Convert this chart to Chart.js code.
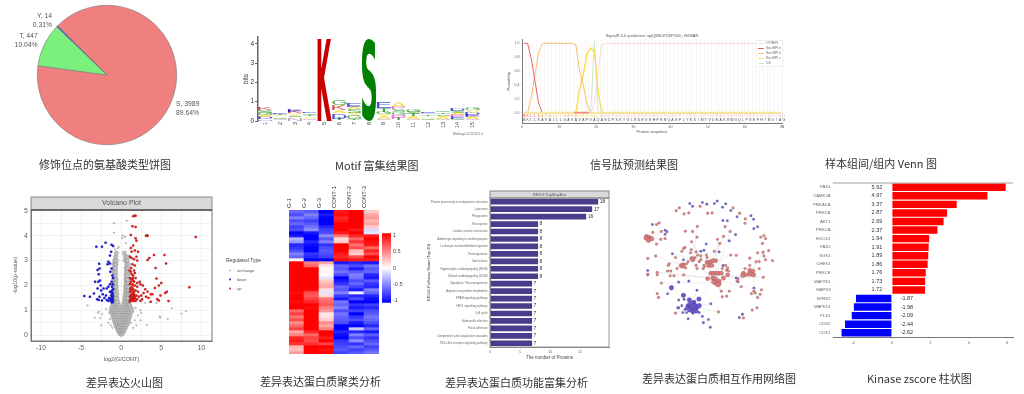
<!DOCTYPE html>
<html lang="zh">
<head>
<meta charset="UTF-8">
<title>Figure panels</title>
<script src="https://cdn.jsdelivr.net/npm/chart.js"></script>
<style>
    html, body { margin: 0; padding: 0; background: #fff; }
    body { width: 1024px; height: 394px; position: relative; overflow: hidden; }
    canvas { position: absolute; filter: blur(0.45px); }
    .cap { position: absolute; font: 11px "Noto Sans CJK SC", sans-serif; color: #333; white-space: nowrap; line-height: 14px; filter: blur(0.3px); }
</style>
</head>
<body>
<canvas id="pieChart" width="214" height="150" style="left:0;top:0"></canvas>
<canvas id="logoChart" width="250" height="120" style="left:240px;top:25px"></canvas>
<canvas id="signalChart" width="300" height="125" style="left:500px;top:25px"></canvas>
<canvas id="volcanoChart" width="285" height="182" style="left:0;top:190px"></canvas>
<canvas id="heatChart" width="100" height="175" style="left:285px;top:183px"></canvas>
<canvas id="scaleChart" width="35" height="80" style="left:380px;top:228px"></canvas>
<canvas id="keggChart" width="200" height="182" style="left:420px;top:185px"></canvas>
<canvas id="netChart" width="190" height="175" style="left:620px;top:185px"></canvas>
<canvas id="kinaseChart" width="224" height="180" style="left:800px;top:170px"></canvas>

<div class="cap" style="left:39px;top:157px">修饰位点的氨基酸类型饼图</div>
<div class="cap" style="left:335px;top:158px">Motif 富集结果图</div>
<div class="cap" style="left:590px;top:157px">信号肽预测结果图</div>
<div class="cap" style="left:825px;top:156px">样本组间/组内 Venn 图</div>
<div class="cap" style="left:86px;top:375px">差异表达火山图</div>
<div class="cap" style="left:260px;top:374px">差异表达蛋白质聚类分析</div>
<div class="cap" style="left:445px;top:375px">差异表达蛋白质功能富集分析</div>
<div class="cap" style="left:642px;top:371px">差异表达蛋白质相互作用网络图</div>
<div class="cap" style="left:867px;top:371px">Kinase zscore 柱状图</div>

<script>
// pie
const pieNames = ['S', 'T', 'Y'];
const pieCounts = [3989, 447, 14];
const piePercents = ['89.64%', '10.04%', '0.31%'];
const pieColors = ['#F08080', '#7CF07C', '#4169C8'];

// motif logo, bottom layer first, one letter string per position
const logoPositions = ['1', '2', '3', '4', '5', '6', '7', '8', '9', '10', '11', '12', '13', '14', '15'];
const logoLetters = ['NDAGSK', 'QGAVTE', 'NASVKE', 'QAVTGD', 'K', 'TDAKAG', 'TGVSAE', 'S', 'QAVGTE', 'TPGSPA', 'QAVTSG', 'GAVTQE', 'QAVSTG', 'GEPASD', 'QAEDVG'];
const logoLayer1 = [.1, .08, .12, .1, 4.3, .12, .1, 4.3, .12, .12, .1, .1, .1, .1, .1];
const logoLayer2 = [.12, .08, .08, .07, 0, .28, .2, 0, .12, .2, .1, .08, .1, .1, .1];
const logoLayer3 = [.1, .08, .07, .08, 0, .15, .1, 0, .1, .15, .08, .08, .08, .1, .12];
const logoLayer4 = [.1, .08, .12, .08, 0, .25, .2, 0, .12, .13, .1, .08, .08, .1, .12];
const logoLayer5 = [.13, .06, .1, .08, 0, .05, .1, 0, .2, .15, .1, .08, .08, .1, .12];
const logoLayer6 = [.15, .08, .14, .08, 0, .25, .2, 0, .3, .25, .1, .08, .08, .12, .14];

// signal peptide, one value per residue
const residues = 'MKLLSAVALLLGAVAVAPVAQAEDPSKTGLRDEVNHFERQAGPLYKSIMTVDEAKRWGQLPSEFHTNDIAG'.split('');
const sigN = [1, 1, .78, .45, .13, 0, 0, 0, 0, 0, 0, 0, 0, 0, 0, 0, 0, 0, 0, 0, 0, 0, 0, 0, 0, 0, 0, 0, 0, 0, 0, 0, 0, 0, 0, 0, 0, 0, 0, 0, 0, 0, 0, 0, 0, 0, 0, 0, 0, 0, 0, 0, 0, 0, 0, 0, 0, 0, 0, 0, 0, 0, 0, 0, 0, 0, 0, 0, 0, 0];
const sigH = [0, 0, .22, .55, .87, 1, 1, 1, 1, 1, 1, 1, 1, 1, .98, .6, .4, .12, 0, 0, 0, 0, 0, 0, 0, 0, 0, 0, 0, 0, 0, 0, 0, 0, 0, 0, 0, 0, 0, 0, 0, 0, 0, 0, 0, 0, 0, 0, 0, 0, 0, 0, 0, 0, 0, 0, 0, 0, 0, 0, 0, 0, 0, 0, 0, 0, 0, 0, 0, 0];
const sigC = [0, 0, 0, 0, 0, 0, 0, 0, 0, 0, 0, 0, 0, 0, 0, .33, .55, .85, .93, .88, .3, 0, 0, 0, 0, 0, 0, 0, 0, 0, 0, 0, 0, 0, 0, 0, 0, 0, 0, 0, 0, 0, 0, 0, 0, 0, 0, 0, 0, 0, 0, 0, 0, 0, 0, 0, 0, 0, 0, 0, 0, 0, 0, 0, 0, 0, 0, 0, 0, 0];
const sigOther = [0, 0, 0, 0, 0, 0, 0, 0, 0, 0, 0, 0, 0, 0, 0, 0, 0, 0, 0, .12, .6, .98, 1, 1, 1, 1, 1, 1, 1, 1, 1, 1, 1, 1, 1, 1, 1, 1, 1, 1, 1, 1, 1, 1, 1, 1, 1, 1, 1, 1, 1, 1, 1, 1, 1, 1, 1, 1, 1, 1, 1, 1, 1, 1, 1, 1, 1, 1, 1, 1];
const sigCs = [0, 0, 0, 0, 0, 0, 0, 0, 0, 0, 0, 0, 0, 0, 0, 0, 0, 0, 0, 1.03, 0, 0, 0, 0, 0, 0, 0, 0, 0, 0, 0, 0, 0, 0, 0, 0, 0, 0, 0, 0, 0, 0, 0, 0, 0, 0, 0, 0, 0, 0, 0, 0, 0, 0, 0, 0, 0, 0, 0, 0, 0, 0, 0, 0, 0, 0, 0, 0, 0, 0];
const sigNames = ['OTHER', 'Sec/SPI n', 'Sec/SPI h', 'Sec/SPI c', 'CS'];
const sigColors = ['#F9CFCF', '#E23B3B', '#F3B04A', '#F7DE4E', '#BFE8BF'];

// volcano [log2FC, -log10 p]
const volcCore = [[0, .05], [-.1, .05], [.1, .05], [-.3, .15], [-.1, .15], [.1, .15], [.3, .15], [-.45, .25], [-.25, .25], [0, .25], [.25, .25], [.45, .25], [-.6, .35], [-.35, .35], [-.1, .35], [.15, .35], [.4, .35], [.6, .35], [-.7, .45], [-.45, .45], [-.2, .45], [.05, .45], [.3, .45], [.55, .45], [.75, .45], [-.8, .55], [-.55, .55], [-.3, .55], [-.05, .55], [.2, .55], [.45, .55], [.7, .55], [.85, .55], [-.9, .65], [-.6, .65], [-.35, .65], [-.1, .65], [.15, .65], [.4, .65], [.65, .65], [.95, .65], [-1, .75], [-.7, .75], [-.4, .75], [-.1, .75], [.2, .75], [.5, .75], [.8, .75], [1.05, .75], [-1.1, .85], [-.8, .85], [-.5, .85], [-.2, .85], [.15, .85], [.45, .85], [.75, .85], [1.1, .85], [-1.2, .95], [-.85, .95], [-.55, .95], [-.25, .95], [.1, .95], [.4, .95], [.7, .95], [1, .95], [1.3, .95], [-1.25, 1.05], [-.95, 1.05], [-.6, 1.05], [-.3, 1.05], [.05, 1.05], [.35, 1.05], [.7, 1.05], [1, 1.05], [1.3, 1.05], [-1.1, 1.15], [-.85, 1.15], [-.55, 1.15], [-.3, 1.15], [.3, 1.15], [.6, 1.15], [.85, 1.15], [1.1, 1.15], [-1, 1.25], [-.8, 1.25], [-.5, 1.25], [-.35, 1.25], [.35, 1.25], [.55, 1.25], [.8, 1.25], [1, 1.25], [-.95, 1.35], [-.7, 1.35], [-.45, 1.35], [.4, 1.35], [.6, 1.35], [.8, 1.35], [.95, 1.35], [-.95, 1.5], [-.75, 1.5], [-.55, 1.5], [.45, 1.5], [.65, 1.5], [.85, 1.5], [-.95, 1.65], [-.75, 1.65], [-.55, 1.65], [.5, 1.65], [.7, 1.65], [.9, 1.65], [-.95, 1.8], [-.8, 1.8], [-.6, 1.8], [.55, 1.8], [.75, 1.8], [.9, 1.8], [-.95, 1.95], [-.75, 1.95], [-.6, 1.95], [.55, 1.95], [.75, 1.95], [.9, 1.95], [-.95, 2.1], [-.8, 2.1], [-.65, 2.1], [.6, 2.1], [.8, 2.1], [.9, 2.1], [-.95, 2.25], [-.8, 2.25], [-.65, 2.25], [.6, 2.25], [.8, 2.25], [-.9, 2.4], [-.7, 2.4], [.6, 2.4], [.8, 2.4], [-.9, 2.55], [-.7, 2.55], [.65, 2.55], [.85, 2.55], [-.85, 2.7], [-.7, 2.7], [.6, 2.7], [.8, 2.7], [-.9, 2.85], [-.65, 2.85], [.7, 2.85], [.9, 2.85], [-.8, 3], [-.6, 3], [.5, 3], [.75, 3], [-.7, 3.15], [.55, 3.15], [.85, 3.15], [-.6, 3.3], [.4, 3.3]];
const volcStray = [[-.75, 3.45], [-.3, 3.55], [-.9, 4.5], [-.9, 4.12], [.7, 4.6], [.2, 4], [.5, 3.95], [-.4, 3.5], [.6, 3.7], [.1, 3.9], [-4.2, 1.2], [-2.8, .95], [-2.9, .9], [-2.4, .85], [-2.6, .7], [-1.9, 1.05], [-1.5, .9], [-2.5, .4], [-3.3, .7], [-1.6, .5], [6.3, 1.08], [7.5, .87], [8.1, .97], [4.8, .75], [4.9, .72], [5.8, .65], [3.2, .42], [2.5, .9], [2.4, 1], [3, 1.3], [3.6, 1.33], [4.4, 1.3], [2.1, .8], [1.8, 1.1], [2.4, .6], [1.7, .6], [1.9, .4], [1.5, .3], [1.2, .5], [-1.3, .4], [-1.1, .3], [-1.4, .65]];
const volcDown = [[-4.6, 1.58], [-3.9, 1.55], [-3.1, 3.55], [-1.95, 3.72], [-2.4, 3.55], [-1.2, 3.63], [-1, 3.58], [-1.25, 3.35], [-1.4, 3.2], [-1.6, 2.95], [-1.4, 2.88], [-1.7, 2.85], [-2.75, 2.87], [-2.7, 2.68], [-2.95, 2.62], [-2.8, 2.45], [-1.2, 2.68], [-1.35, 2.55], [-2.65, 2.2], [-3.25, 2.15], [-2.85, 2.15], [-2.55, 2], [-2.2, 1.88], [-1.8, 1.88], [-1.2, 2.15], [-1.4, 2.05], [-1.6, 1.95], [-1.15, 1.95], [-2.95, 1.88], [-2.5, 1.8], [-3.4, 1.68], [-2.3, 1.65], [-1.9, 1.6], [-1.4, 1.75], [-1.1, 1.7], [-1.25, 1.6], [-2.7, 1.55], [-3, 1.45], [-2.1, 1.5], [-2.8, 1.42], [-2.4, 1.4], [-1.8, 1.42], [-1.5, 1.5], [-1.2, 1.5], [-1.05, 1.45], [-1.1, 1.38], [-1.3, 1.4], [-1.6, 1.38], [-1.15, 1.32], [-1.05, 1.55], [-1, 1.85], [-1, 2.3], [-1.1, 2.4], [-1.05, 1.42], [-1.2, 1.36], [-1.02, 1.35], [-1.1, 1.48], [-1.2, 1.43], [-1.05, 1.62], [-1.15, 1.8], [-1.05, 2.05], [-1.25, 1.72], [-1.4, 1.45]];
const volcUp = [[9.3, 3.95], [8.5, 1.93], [5.9, 1.38], [5.6, 2.88], [5.4, 3.22], [5.7, 1.75], [5.5, 1.7], [5, 2.1], [4.7, 2], [4.9, 1.6], [4.7, 1.4], [4.5, 1.45], [4.2, 1.9], [4.4, 2.28], [4.3, 2.7], [4.1, 3.22], [3.5, 3.1], [3.3, 3.02], [3.3, 4], [3.2, 4], [3.1, 4], [1.7, 4.8], [1.8, 4.8], [1.5, 4.78], [1.4, 4.38], [1.8, 4.35], [1.2, 4.03], [1.8, 3.9], [1.9, 3.8], [1.5, 3.6], [1.2, 3.5], [1.3, 3.35], [1.7, 3.4], [2.1, 3.35], [1.1, 3.15], [1.3, 3.1], [1.6, 3.05], [1.9, 3.15], [2, 3], [1.4, 2.85], [1.7, 2.8], [1.6, 2.6], [1.2, 2.55], [1.3, 2.45], [1.5, 2.4], [1.7, 2.5], [1.1, 2.3], [1.3, 2.25], [1.5, 2.2], [1.8, 2.3], [2, 2.1], [2.3, 2.15], [2.4, 2.05], [1.1, 2.05], [1.4, 2.05], [1.7, 2], [2, 1.95], [1.2, 1.9], [1.5, 1.85], [1.8, 1.8], [2.1, 1.75], [2.7, 2], [3, 1.85], [2.8, 1.7], [3.3, 1.75], [2.5, 1.6], [3.7, 1.65], [3.9, 1.65], [1.1, 1.75], [1.4, 1.7], [1.6, 1.65], [1.9, 1.6], [2.2, 1.55], [3.1, 1.55], [3.4, 1.5], [3.7, 1.35], [1.1, 1.55], [1.3, 1.55], [1.5, 1.5], [1.7, 1.5], [2, 1.45], [1.1, 1.42], [1.3, 1.4], [1.5, 1.38], [1.8, 1.38], [1.05, 1.35], [2.4, 1.38], [2.6, 1.45], [1.6, 1.75], [1.4, 1.95], [1.2, 1.62], [1.35, 1.8], [1.55, 1.6], [1.75, 1.58], [1.25, 1.47], [1.45, 1.45], [1.65, 1.42], [1.2, 2.15], [1.45, 2.3], [1.6, 2.15], [1.25, 2.7], [1.15, 1.85], [1.05, 2.6], [1.4, 1.6]];
const volcXTicks = [-10, -7.5, -5, -2.5, 0, 2.5, 5, 7.5, 10];
const volcYTicks = [0, .5, 1, 1.5, 2, 2.5, 3, 3.5, 4, 4.5, 5];

// heat map, one list per sample, top row first
const heatSamples = ['G-1', 'G-2', 'G-3', 'CONT-1', 'CONT-2', 'CONT-3'];
const heatG1 = [-.6, -.7, -.5, -.7, -.6, -.75, -.7, -1, -.9, -.3, -.4, -.85, -.8, -.7, -.5, -.6, .05, 1, 1, 1, 1, 1, 1, 1, 1, 1, 1, .95, 1, 1, .95, 1, 1, .6, .75, .55, .7, .45, .6, .75, .35, .5, .85, .9, .8, .3, .25, .4];
const heatG2 = [-.65, -.5, -.6, -.75, -.65, -.55, -.45, -.9, -1, -1, -.85, -.95, -1, -1, -.8, -.85, -1, .5, .6, 1, 1, 1, 1, 1, 1, 1, .95, .7, .65, .75, .85, 1, .95, 1, 1, 1, 1, 1, 1, 1, .85, .6, .75, .7, .8, 1, 1, 1];
const heatG3 = [-1, -.9, -1, -1, -1, -.85, -.75, -.7, -.45, -.65, -.5, -.8, -.7, -.65, -.7, -.75, -1, .35, .1, .02, .05, .02, -.1, .2, .3, .35, .12, -.1, .15, .55, .6, .65, .5, .4, .1, .12, .2, .45, .35, .5, 1, 1, .9, 1, .75, 1, .95, 1];
const heatC1 = [.9, .95, .85, .9, 1, 1, 1, .9, .55, .15, .2, 1, 1, 1, .9, .85, .95, -.9, -.6, -.65, -.55, -.7, -1, -.9, -.8, -.6, -.65, -.5, -.75, -.9, -.55, -.6, -.5, -.7, -.55, -.6, -.65, -.7, -1, -1, -.85, -.95, -1, -.8, -.75, -.7, -.65, -.75];
const heatC2 = [1, 1, 1, 1, 1, 1, .9, 1, .85, .6, .8, .55, .7, .25, .2, .7, .9, -.85, -.7, -.9, -.65, -.5, -.55, -.7, -.6, -.75, -.9, -.05, -.85, -.7, -1, -.8, -.9, -.75, -1, -.8, -.7, -.9, -1, -.2, -.85, -.5, -.7, -.45, -.8, -.6, -.75, -.65];
const heatC3 = [.2, .35, .4, .3, .35, .2, -.15, -.1, .9, 1, .95, .9, .6, .85, .7, 1, .9, -.9, -.55, -.65, -.6, -.85, -.9, -.65, -.8, -.85, -.5, -.6, -.85, -.95, -1, -.75, -.85, -.7, -.65, -.55, -.6, -.7, -.85, -.6, -.9, -.65, -.8, -.7, -.6, -.75, -.65, -.55];
const heatScaleTicks = [-1, -.5, 0, .5, 1];

// KEGG
const keggNames = ['Protein processing in endoplasmic reticulum', 'Lysosome', 'Phagosome', 'Necroptosis', 'Cardiac muscle contraction', 'Adrenergic signaling in cardiomyocytes', 'Leukocyte transendothelial migration', 'Thermogenesis', 'Tuberculosis', 'Hypertrophic cardiomyopathy (HCM)', 'Dilated cardiomyopathy (DCM)', 'Glycolysis / Gluconeogenesis', 'Arginine and proline metabolism', 'PPAR signaling pathway', 'HIF-1 signaling pathway', 'Cell cycle', 'Salmonella infection', 'Focal adhesion', 'Complement and coagulation cascades', 'RIG-I-like receptor signaling pathway'];
const keggCounts = [18, 17, 16, 8, 8, 8, 8, 8, 8, 8, 8, 7, 7, 7, 7, 7, 7, 7, 7, 7];
const keggTicks = [0, 5, 10, 15];

// network nodes and links, in picture units
const netRed = [[162, 66], [172, 57], [187, 76], [202, 73], [238, 52], [262, 74], [276, 73], [342, 57], [363, 74], [381, 92], [380, 106], [317, 117], [229, 116], [214, 132], [191, 131], [228, 150], [211, 165], [88, 135], [100, 110], [108, 105], [115, 132], [100, 172], [113, 157], [127, 155], [72, 218], [97, 210], [185, 186], [190, 183], [180, 195], [210, 190], [208, 200], [225, 197], [230, 207], [240, 210], [258, 207], [260, 215], [222, 215], [240, 222], [200, 228], [195, 235], [140, 235], [137, 240], [145, 258], [135, 258], [165, 250], [143, 273], [155, 273], [186, 270], [192, 248], [225, 240], [228, 250], [250, 240], [248, 250], [235, 228], [252, 243], [160, 215], [322, 255], [328, 258], [318, 240], [325, 248], [308, 250], [395, 240], [415, 228], [425, 250], [438, 278], [358, 282], [355, 290], [368, 308], [400, 330], [408, 322], [412, 328], [420, 342], [428, 332], [432, 318], [305, 322], [330, 322], [308, 340], [322, 338], [102, 330], [106, 342], [115, 296], [160, 392], [296, 388], [418, 375], [403, 382], [375, 407], [430, 150], [440, 145], [445, 155], [435, 170], [437, 198], [455, 193], [440, 210], [445, 222], [467, 225], [420, 200], [395, 217], [335, 207], [352, 208], [293, 157], [312, 148], [333, 132], [283, 195], [300, 170], [102, 262], [102, 270], [72, 268], [380, 250], [425, 228]];
const netRedBig = [[68, 148], [76, 150], [72, 157], [80, 155], [66, 153], [75, 161], [85, 155], [212, 218], [215, 222], [185, 238], [178, 240], [182, 243], [260, 230], [270, 228], [278, 225], [287, 225], [265, 240], [275, 240], [272, 265], [280, 265], [288, 265], [296, 265], [305, 265], [262, 282], [278, 280], [285, 282], [290, 288], [298, 290], [285, 295], [290, 298], [298, 298], [280, 292], [295, 302], [312, 280], [325, 270], [375, 265], [380, 270], [372, 272], [395, 255], [405, 258], [392, 268], [400, 268], [408, 270]];
const netBlue = [[205, 43], [214, 52], [245, 40], [259, 45], [283, 43], [292, 35], [309, 55], [319, 44], [335, 65], [355, 85], [399, 82], [407, 93], [408, 123], [420, 117], [310, 97], [324, 98], [350, 142], [330, 162], [87, 110], [127, 128], [133, 133], [127, 141], [257, 172], [240, 195], [250, 192], [298, 197], [150, 203], [185, 222], [310, 240], [352, 280], [358, 292], [408, 312], [228, 319], [202, 290], [170, 293], [135, 330], [72, 256], [72, 270], [272, 362], [170, 350], [187, 348], [170, 375], [180, 368], [167, 375], [190, 380], [183, 390], [195, 390], [215, 392], [235, 390], [245, 402], [200, 410], [248, 422], [264, 412], [270, 437], [362, 406], [372, 395]];
const netBlueBig = [[234, 347], [147, 311], [185, 335], [204, 350], [218, 358], [200, 368], [205, 372], [212, 365], [222, 368], [228, 372], [198, 375], [210, 378], [220, 380], [205, 382], [215, 385], [225, 385], [235, 368], [208, 362], [214, 372]];
const netLinks = [[285, 280, 211, 165], [285, 280, 186, 270], [285, 280, 322, 255], [285, 280, 380, 270], [285, 280, 352, 208], [285, 280, 293, 157], [285, 280, 333, 132], [285, 280, 308, 340], [285, 280, 234, 347], [285, 280, 225, 240], [285, 280, 143, 273], [285, 280, 102, 262], [285, 280, 368, 308], [285, 280, 438, 278], [400, 265, 415, 228], [400, 265, 437, 198], [400, 265, 355, 290], [400, 265, 420, 342], [215, 218, 185, 186], [215, 218, 229, 116], [215, 218, 140, 235], [215, 218, 260, 230], [215, 218, 150, 203], [215, 218, 283, 195], [185, 240, 97, 210], [185, 240, 165, 250], [185, 240, 102, 270], [210, 372, 272, 362], [210, 372, 296, 388], [210, 372, 147, 311], [210, 372, 270, 437], [210, 372, 160, 392], [76, 153, 115, 132], [76, 153, 127, 155], [275, 232, 300, 170], [275, 232, 312, 148], [275, 232, 335, 207], [212, 365, 228, 319], [285, 295, 115, 296]];

// kinases
const kinaseNames = ['PAK1', 'CAMK2A', 'PRKACA', 'PRKCB', 'AKT1', 'PRKCA', 'ROCK1', 'PAK2', 'SGK1', 'CHEK1', 'PRKCE', 'MAP2K1', 'MAPK3', 'NTRK2', 'MAPK14', 'PLK1', 'CDK2', 'CDK1'];
const kinaseScores = [5.92, 4.97, 3.37, 2.87, 2.69, 2.37, 1.94, 1.91, 1.89, 1.86, 1.76, 1.73, 1.72, -1.87, -1.98, -2.09, -2.44, -2.62];
const kinaseTicks = [-2, 0, 2, 4, 6];

Chart.defaults.animation = false;
Chart.defaults.responsive = false;
Chart.defaults.font.family = "'Liberation Sans', Arial, sans-serif";
Chart.defaults.color = '#666';
Chart.defaults.plugins.legend.display = false;
Chart.defaults.plugins.tooltip.enabled = false;

const fixW = w => s => { s.width = w; };
const fixH = h => s => { s.height = h; };
const setTicks = list => s => { s.ticks = list.map(v => ({ value: v })); };

function ctxOf(id) {
    return document.getElementById(id).getContext('2d');
}

// gray title strip and panel frame used by the ggplot style panels
const stripPlugin = {
    id: 'strip',
    afterDraw(chart, args, o) {
        const { ctx, chartArea: a } = chart;
        ctx.save();
        ctx.strokeStyle = o.frame;
        ctx.lineWidth = 1;
        ctx.strokeRect(a.left, a.top, a.width, a.height);
        ctx.fillStyle = '#D9D9D9';
        ctx.fillRect(a.left, a.top - o.height, a.width, o.height);
        ctx.strokeStyle = '#8a8a8a';
        ctx.strokeRect(a.left, a.top - o.height, a.width, o.height);
        ctx.strokeStyle = o.rule;
        ctx.lineWidth = 1.3;
        ctx.beginPath();
        ctx.moveTo(a.left, a.top);
        ctx.lineTo(a.right, a.top);
        ctx.stroke();
        ctx.fillStyle = '#555';
        ctx.font = o.size + "px 'Liberation Sans'";
        ctx.textAlign = 'center';
        ctx.textBaseline = 'middle';
        ctx.fillText(o.text, (a.left + a.right) / 2, a.top - o.height / 2);
        ctx.restore();
    }
};

// pie
new Chart(ctxOf('pieChart'), {
    type: 'pie',
    data: {
        labels: pieNames,
        datasets: [{ data: pieCounts, backgroundColor: pieColors, borderColor: '#777', borderWidth: .6 }]
    },
    options: {
        layout: { padding: 5 },
        rotation: -45,
        plugins: { legend: { display: false } }
    },
    plugins: [{
        id: 'pieLabels',
        afterDraw(chart) {
            const ctx = chart.ctx;
            ctx.save();
            ctx.font = "6.8px 'Liberation Sans'";
            ctx.fillStyle = '#555';
            ctx.textBaseline = 'middle';
            chart.getDatasetMeta(0).data.forEach((arc, i) => {
                const mid = (arc.startAngle + arc.endAngle) / 2;
                const px = arc.x + Math.cos(mid) * 77;
                const py = arc.y + Math.sin(mid) * 77;
                ctx.textAlign = Math.cos(mid) > 0 ? 'left' : 'right';
                ctx.fillText(pieNames[i] + ', ' + pieCounts[i], px, py - 5);
                ctx.fillText(piePercents[i], px, py + 4);
            });
            ctx.restore();
        }
    }]
});

// motif logo, the bars only size the letters
const letterColor = { K: '#C80000', R: '#C80000', S: '#008000', T: '#008000', G: '#008000', D: '#0000CC', E: '#0000CC', A: '#F0D000', V: '#F0D000', P: '#FF30E0', Q: '#A070C0', N: '#A070C0' };
new Chart(ctxOf('logoChart'), {
    type: 'bar',
    data: {
        labels: logoPositions,
        datasets: [logoLayer1, logoLayer2, logoLayer3, logoLayer4, logoLayer5, logoLayer6].map(d => ({
            data: d, backgroundColor: 'transparent', barPercentage: 1, categoryPercentage: .96
        }))
    },
    options: {
        layout: { padding: { top: 12, right: 10, left: 2, bottom: 8 } },
        scales: {
            x: {
                stacked: true, afterFit: fixH(16),
                grid: { display: false, drawTicks: false }, border: { display: false },
                ticks: { minRotation: 90, maxRotation: 90, autoSkip: false, font: { size: 5.5 }, color: '#444', padding: 1 }
            },
            y: {
                stacked: true, min: 0, max: 4.35, afterFit: fixW(16), afterBuildTicks: setTicks([0, 1, 2, 3, 4]),
                grid: { drawOnChartArea: false, tickLength: 3, color: '#666' }, border: { color: '#666', width: 1.5 },
                title: { display: true, text: 'bits', font: { size: 6.5 }, color: '#333', padding: 0 },
                ticks: { font: { size: 6.5 }, color: '#333', padding: 1 }
            }
        }
    },
    plugins: [{
        id: 'logoGlyphs',
        afterDatasetsDraw(chart) {
            const ctx = chart.ctx;
            chart.data.datasets.forEach((d, di) => {
                chart.getDatasetMeta(di).data.forEach((bar, pi) => {
                    const letter = logoLetters[pi][di];
                    if (!letter || !d.data[pi]) return;
                    const h = Math.abs(bar.base - bar.y);
                    const small = d.data[pi] < 1;
                    ctx.save();
                    ctx.font = small ? "100px 'Liberation Sans'" : "bold 100px 'DejaVu Sans'";
                    const m = ctx.measureText(letter);
                    const gw = m.actualBoundingBoxLeft + m.actualBoundingBoxRight;
                    const gh = m.actualBoundingBoxAscent + m.actualBoundingBoxDescent;
                    ctx.translate(bar.x - bar.width / 2, bar.y);
                    ctx.scale(bar.width / gw, h / gh);
                    ctx.globalAlpha = small ? .7 : 1;
                    ctx.fillStyle = letterColor[letter];
                    ctx.textBaseline = 'alphabetic';
                    ctx.fillText(letter, m.actualBoundingBoxLeft, m.actualBoundingBoxAscent);
                    ctx.restore();
                });
            });
            ctx.save();
            ctx.font = "3px 'Liberation Sans'";
            ctx.fillStyle = '#666';
            ctx.textAlign = 'right';
            ctx.fillText('WebLogo 13.28.22:1.0', 243, 110);
            ctx.restore();
        }
    }]
});

// signal peptide
const sigSeries = [sigOther, sigN, sigH, sigC, sigCs];
new Chart(ctxOf('signalChart'), {
    type: 'scatter',
    data: {
        datasets: sigSeries.map((s, k) => ({
            label: sigNames[k],
            data: s.map((v, i) => ({ x: i + .5, y: v })),
            showLine: true, pointRadius: 0, borderColor: sigColors[k], borderWidth: k === 3 ? 1.4 : .8
        }))
    },
    options: {
        layout: { padding: { top: 14.5, right: 18, bottom: 16, left: 6 } },
        scales: {
            x: {
                type: 'linear', min: 0, max: 70, afterFit: fixH(11),
                afterBuildTicks: setTicks(residues.map((r, i) => i).concat(70)),
                grid: { color: '#f1f1f1', lineWidth: .6, tickLength: 1.5 }, border: { color: '#777' },
                title: { display: true, text: 'Protein sequence', font: { size: 4 }, color: '#555', padding: 0 },
                ticks: { autoSkip: false, maxRotation: 0, font: { size: 3.6 }, padding: 0, callback: v => v % 10 === 0 ? v : '' }
            },
            y: {
                min: -.15, max: 1.055, afterFit: fixW(16), afterBuildTicks: setTicks([0, .2, .4, .6, .8, 1]),
                grid: { drawOnChartArea: false, tickLength: 1.5 }, border: { color: '#777' },
                title: { display: true, text: 'Probability', font: { size: 4 }, color: '#555', padding: 0 },
                ticks: { font: { size: 3.6 }, padding: 1, callback: v => v.toFixed(1) }
            }
        }
    },
    plugins: [{
        id: 'signalExtras',
        afterDatasetsDraw(chart) {
            const { ctx, chartArea: a, scales } = chart;
            ctx.save();
            ctx.font = "3.4px 'Liberation Sans'";
            ctx.textAlign = 'center';
            ctx.textBaseline = 'middle';
            residues.forEach((r, i) => {
                const px = scales.x.getPixelForValue(i + .5);
                ctx.fillStyle = i < 5 ? '#E23B3B' : i < 15 ? '#F3B04A' : i < 21 ? '#F7DE4E' : '#F6BDBD';
                ctx.fillText(r, px, scales.y.getPixelForValue(-.05));
                ctx.fillStyle = '#444';
                ctx.fillText(r, px, scales.y.getPixelForValue(-.105));
            });
            // thick band along the zero line
            ctx.strokeStyle = '#F9E59A';
            ctx.lineWidth = 1.6;
            ctx.beginPath();
            ctx.moveTo(scales.x.getPixelForValue(.5), scales.y.getPixelForValue(0));
            ctx.lineTo(scales.x.getPixelForValue(69.5), scales.y.getPixelForValue(0));
            ctx.stroke();
            ctx.strokeStyle = '#EE8A8A';
            ctx.beginPath();
            ctx.moveTo(scales.x.getPixelForValue(14), scales.y.getPixelForValue(0));
            ctx.lineTo(scales.x.getPixelForValue(18), scales.y.getPixelForValue(0));
            ctx.stroke();
            // legend box
            const bx = a.right - 26, by = a.top + 1;
            ctx.fillStyle = '#fff';
            ctx.fillRect(bx, by, 27, 26);
            ctx.strokeStyle = '#e2e2e2';
            ctx.lineWidth = .5;
            ctx.strokeRect(bx, by, 27, 26);
            ctx.textAlign = 'left';
            ctx.font = "3.4px 'Liberation Sans'";
            sigNames.forEach((n, k) => {
                const ly = by + 3 + k * 5;
                ctx.strokeStyle = sigColors[k];
                ctx.lineWidth = .8;
                ctx.beginPath();
                ctx.moveTo(bx + 2, ly);
                ctx.lineTo(bx + 8, ly);
                ctx.stroke();
                ctx.fillStyle = '#666';
                ctx.fillText(n, bx + 10, ly);
            });
            ctx.restore();
        }
    }, {
        id: 'signalTitle',
        afterDraw(chart) {
            const { ctx, chartArea: a } = chart;
            ctx.save();
            ctx.font = "4px 'Liberation Sans'";
            ctx.fillStyle = '#555';
            ctx.textAlign = 'center';
            ctx.fillText('SignalP-5.0 prediction: sp|Q8N0X7|SPG20_HUMAN', (a.left + a.right) / 2, a.top - 3);
            ctx.restore();
        }
    }]
});

// volcano
const volcKey = [['unchange', '#BEBEBE'], ['down', '#2020E0'], ['up', '#E82020']];
new Chart(ctxOf('volcanoChart'), {
    type: 'scatter',
    data: {
        datasets: [
            { data: volcUp.map(p => ({ x: p[0], y: p[1] })), backgroundColor: '#E82020', pointRadius: 1.25 },
            { data: volcDown.map(p => ({ x: p[0], y: p[1] })), backgroundColor: '#2020E0', pointRadius: 1.25 },
            { data: volcStray.map(p => ({ x: p[0], y: p[1] })), backgroundColor: '#C8C8C8', pointRadius: .9 },
            { data: volcCore.map(p => ({ x: p[0], y: p[1] })), backgroundColor: '#BEBEBE', pointRadius: 2.3 }
        ]
    },
    options: {
        layout: { padding: { top: 20, right: 73, bottom: 9, left: 12 } },
        scales: {
            x: {
                type: 'linear', min: -11.25, max: 11.33, afterFit: fixH(22), afterBuildTicks: setTicks(volcXTicks),
                grid: { color: '#ececec', lineWidth: .7, tickLength: 2 }, border: { color: '#777' },
                title: { display: true, text: 'log2(G/CONT)', font: { size: 5.5 }, color: '#555', padding: 0 },
                ticks: { autoSkip: false, maxRotation: 0, font: { size: 7 }, color: '#666', padding: 1, callback: v => v % 5 === 0 ? v : '' }
            },
            y: {
                min: -.23, max: 5.03, afterFit: fixW(19), afterBuildTicks: setTicks(volcYTicks),
                grid: { color: '#ececec', lineWidth: .7, tickLength: 2 }, border: { color: '#777' },
                title: { display: true, text: '-log10(p-value)', font: { size: 5.5 }, color: '#555', padding: 0 },
                ticks: { autoSkip: false, font: { size: 7 }, color: '#666', padding: 1, callback: v => Number.isInteger(v) ? v : '' }
            }
        },
        plugins: { strip: { text: 'Volcano Plot', height: 13, size: 7, frame: '#777', rule: '#555' } }
    },
    plugins: [stripPlugin, {
        id: 'volcanoKey',
        afterDraw(chart) {
            const ctx = chart.ctx;
            ctx.save();
            ctx.fillStyle = '#444';
            ctx.font = "5px 'Liberation Sans'";
            ctx.textBaseline = 'middle';
            ctx.fillText('Regulated Type', 226, 71);
            ctx.font = "4px 'Liberation Sans'";
            volcKey.forEach((k, i) => {
                const ly = 80.5 + i * 9;
                ctx.fillStyle = k[1];
                ctx.beginPath();
                ctx.arc(230, ly, 1, 0, Math.PI * 2);
                ctx.fill();
                ctx.fillStyle = '#555';
                ctx.fillText(k[0], 237, ly);
            });
            ctx.restore();
        }
    }]
});

// heat map
const heatColumns = [heatG1, heatG2, heatG3, heatC1, heatC2, heatC3];
function heatColor(v) {
    const t = Math.min(1, Math.abs(v));
    const c = Math.round(255 * (1 - t));
    return v >= 0 ? `rgb(255,${c},${c})` : `rgb(${c},${c},255)`;
}
new Chart(ctxOf('heatChart'), {
    type: 'bar',
    data: {
        labels: heatSamples,
        datasets: heatG1.map((_, row) => ({
            data: heatColumns.map(() => 1),
            backgroundColor: heatColumns.map(col => heatColor(col[row])),
            barPercentage: 1, categoryPercentage: 1
        }))
    },
    options: {
        layout: { padding: { top: 0, left: 4, right: 6, bottom: 4 } },
        scales: {
            x: {
                stacked: true, position: 'top', afterFit: fixH(27),
                grid: { display: false, tickLength: 1 }, border: { display: false },
                ticks: { minRotation: 90, maxRotation: 90, autoSkip: false, font: { size: 6 }, color: '#333', padding: 1 }
            },
            y: { stacked: true, reverse: true, min: 0, max: 48, display: false }
        }
    }
});

// colour scale for the heat map
new Chart(ctxOf('scaleChart'), {
    type: 'bar',
    data: {
        labels: [''],
        datasets: [{
            data: [[-1.07, 1.07]], barPercentage: 1, categoryPercentage: 1,
            backgroundColor(c) {
                const a = c.chart.chartArea;
                if (!a) return '#fff';
                const g = c.chart.ctx.createLinearGradient(0, a.bottom, 0, a.top);
                g.addColorStop(0, '#0000ff');
                g.addColorStop(.5, '#ffffff');
                g.addColorStop(1, '#ff0000');
                return g;
            }
        }]
    },
    options: {
        layout: { padding: { top: 5, left: 2, right: 0, bottom: 4 } },
        scales: {
            x: { display: false },
            y: {
                position: 'right', min: -1.07, max: 1.07, afterFit: fixW(24), afterBuildTicks: setTicks(heatScaleTicks),
                grid: { display: false, drawTicks: false }, border: { display: false },
                ticks: { font: { size: 5.5 }, color: '#444', padding: 2, callback: v => String(v) }
            }
        }
    }
});

// KEGG bars
new Chart(ctxOf('keggChart'), {
    type: 'bar',
    data: {
        labels: keggNames,
        datasets: [{ data: keggCounts, backgroundColor: '#483D8B', barPercentage: .76, categoryPercentage: 1 }]
    },
    options: {
        indexAxis: 'y',
        layout: { padding: { top: 13, right: 11, bottom: 7, left: 6 } },
        scales: {
            x: {
                min: 0, max: 19.8, afterFit: fixH(13), afterBuildTicks: setTicks(keggTicks),
                grid: { drawOnChartArea: false, tickLength: 2 }, border: { color: '#777' },
                title: { display: true, text: 'The number of Proteins', font: { size: 4.5 }, color: '#444', padding: 0 },
                ticks: { font: { size: 3.4 }, padding: 1 }
            },
            y: {
                afterFit: fixW(64),
                grid: { drawOnChartArea: false, tickLength: 1.5 }, border: { color: '#777' },
                title: { display: true, text: 'KEGG Pathway Name(Top 20)', font: { size: 4.2 }, color: '#444', padding: 0 },
                ticks: { autoSkip: false, font: { size: 2.9 }, padding: 1 }
            }
        },
        plugins: { strip: { text: 'KEGG TopMapBar', height: 7, size: 4, frame: '#999', rule: '#999' } }
    },
    plugins: [stripPlugin, {
        id: 'keggValues',
        afterDatasetsDraw(chart) {
            const ctx = chart.ctx;
            ctx.save();
            ctx.font = "5px 'Liberation Sans'";
            ctx.fillStyle = '#333';
            ctx.textBaseline = 'middle';
            chart.getDatasetMeta(0).data.forEach((bar, i) => ctx.fillText(keggCounts[i], bar.x + 1.5, bar.y));
            ctx.restore();
        }
    }]
});

// network, links last so they sit under the nodes
const toXY = p => ({ x: p[0], y: p[1] });
new Chart(ctxOf('netChart'), {
    type: 'scatter',
    data: {
        datasets: [
            { data: netRedBig.map(toXY), backgroundColor: '#DB7C7C', pointRadius: 2.2 },
            { data: netRed.map(toXY), backgroundColor: '#DB8585', pointRadius: 1.4 },
            { data: netBlueBig.map(toXY), backgroundColor: '#6A5ACD', pointRadius: 2.4 },
            { data: netBlue.map(toXY), backgroundColor: '#7468D0', pointRadius: 1.3 },
            {
                data: netLinks.flatMap(l => [{ x: l[0], y: l[1] }, { x: l[2], y: l[3] }, { x: NaN, y: NaN }]),
                showLine: true, spanGaps: false, pointRadius: 0, borderColor: '#e8e8e8', borderWidth: .7
            }
        ]
    },
    options: {
        scales: {
            x: { type: 'linear', min: 0, max: 570, display: false },
            y: { min: 0, max: 525, reverse: true, display: false }
        }
    }
});

// kinase z-scores
new Chart(ctxOf('kinaseChart'), {
    type: 'bar',
    data: {
        labels: kinaseNames,
        datasets: [{
            data: kinaseScores,
            backgroundColor: kinaseScores.map(v => v > 0 ? '#FF0000' : '#0000FF'),
            barPercentage: .87, categoryPercentage: 1
        }]
    },
    options: {
        indexAxis: 'y',
        layout: { padding: { top: 13, right: 11, bottom: 3, left: 0 } },
        scales: {
            x: {
                min: -3.065, max: 6.3, afterFit: fixH(10), afterBuildTicks: setTicks(kinaseTicks),
                grid: { drawOnChartArea: false, tickLength: 2 }, border: { color: '#777' },
                ticks: { font: { size: 4 }, padding: 1 }
            },
            y: {
                afterFit: fixW(33),
                grid: { drawOnChartArea: false, tickLength: 1.5 }, border: { display: false },
                ticks: { autoSkip: false, font: { size: 4.2 }, padding: 1 }
            }
        }
    },
    plugins: [{
        id: 'kinaseValues',
        afterDatasetsDraw(chart) {
            const { ctx, chartArea: a, scales } = chart;
            const zero = scales.x.getPixelForValue(0);
            ctx.save();
            ctx.strokeStyle = '#888';
            ctx.lineWidth = .8;
            ctx.beginPath();
            ctx.moveTo(a.left, a.top);
            ctx.lineTo(a.right, a.top);
            ctx.stroke();
            ctx.font = "5.5px 'Liberation Sans'";
            ctx.fillStyle = '#333';
            ctx.textAlign = 'center';
            ctx.textBaseline = 'middle';
            chart.getDatasetMeta(0).data.forEach((bar, i) => {
                const v = kinaseScores[i];
                ctx.fillText(v.toFixed(2), v > 0 ? zero - 15 : zero + 15, bar.y);
            });
            ctx.restore();
        }
    }]
});
</script>
</body>
</html>
